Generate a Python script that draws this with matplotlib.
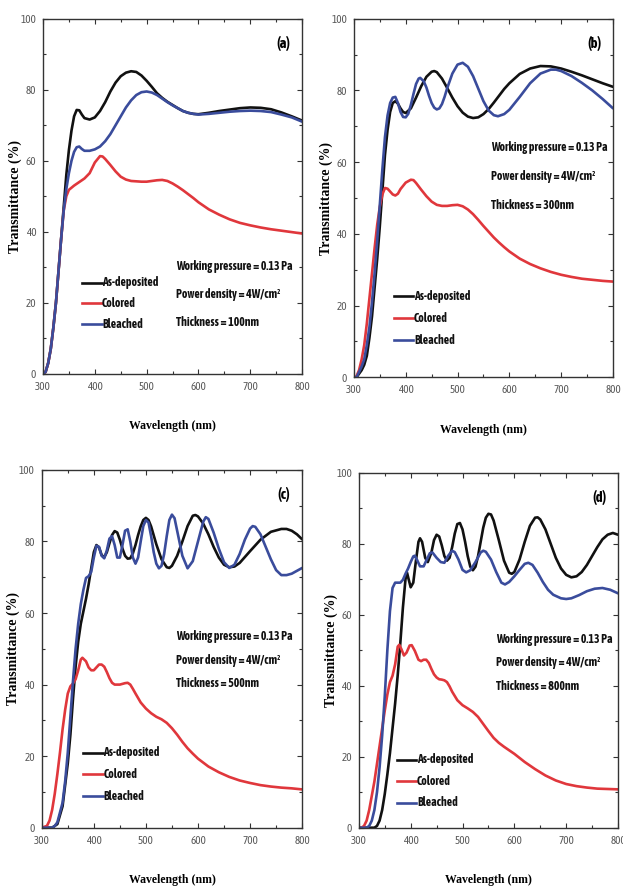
import matplotlib
matplotlib.use("Agg")
import matplotlib.pyplot as plt
from matplotlib.ticker import MultipleLocator

# ---- (a) 100 nm ----
WL_A_DEP = [300, 305, 310, 315, 320, 325, 330, 335, 340, 345, 350, 355, 360, 365, 370, 375, 380, 390, 400,
            410, 420, 430, 440, 450, 460, 470, 480, 490, 500, 510, 520, 530, 540, 550, 560, 570, 580, 590,
            600, 620, 640, 660, 680, 700, 720, 740, 760, 780, 800]
T_A_DEP = [0, 0.5, 3, 7, 13, 20, 29, 38, 47, 56, 63, 68.5, 72.5, 74.3, 74.2, 73, 72, 71.6, 72.2,
           74, 76.5, 79.5, 82, 83.8, 84.8, 85.2, 85, 84, 82.5, 80.8, 79, 77.7, 76.6, 75.7, 74.8, 74, 73.5, 73.2,
           73.1, 73.5, 74, 74.4, 74.8, 75, 74.9, 74.5, 73.6, 72.5, 71.3]
WL_A_BL = WL_A_DEP
T_A_BL = [0, 0.5, 3, 7, 13, 20, 29, 38, 46, 52, 56.5, 60, 62.5, 63.8, 64, 63.3, 62.8, 62.8, 63.2,
          64, 65.5, 67.5, 70, 72.5, 75, 77, 78.5, 79.3, 79.5, 79.2, 78.5, 77.5, 76.5, 75.6, 74.8, 74, 73.5, 73.2,
          73, 73.2, 73.5, 73.8, 74, 74.1, 74, 73.7, 73, 72.2, 71]
WL_A_COL = [300, 305, 310, 315, 320, 325, 330, 335, 340, 345, 350, 360, 370, 380, 390, 400, 410, 415, 420,
            430, 440, 450, 460, 470, 480, 490, 500, 510, 520, 530, 540, 550, 560, 570, 580, 590, 600, 620,
            640, 660, 680, 700, 720, 740, 760, 780, 800]
T_A_COL = [0, 0.5, 3, 7, 13, 20, 29, 38, 46, 50, 51.8, 53, 54, 55, 56.5, 59.5, 61.3, 61.2, 60.5,
           58.8, 57, 55.5, 54.7, 54.3, 54.2, 54.1, 54.1, 54.3, 54.5, 54.6, 54.3, 53.6, 52.7, 51.7, 50.6, 49.5,
           48.3, 46.3, 44.8, 43.5, 42.5, 41.8, 41.2, 40.7, 40.3, 39.9, 39.5]

# ---- (b) 300 nm ----
WL_B_DEP = [300, 305, 310, 315, 320, 325, 330, 335, 340, 345, 350, 355, 360, 365, 370, 375, 380, 385, 390,
            395, 400, 410, 420, 430, 440, 450, 455, 460, 470, 480, 490, 500, 510, 520, 530, 540, 550, 560,
            570, 580, 590, 600, 620, 640, 660, 680, 700, 720, 740, 760, 780, 800]
T_B_DEP = [0, 0, 1, 2, 3.5, 6, 11, 17, 25, 33, 42, 52, 62, 69, 74, 76.5, 77, 76.3, 75,
           74, 73.7, 75, 78, 81.2, 83.8, 85.2, 85.4, 85.1, 83.3, 80.7, 78, 75.6, 73.8, 72.7, 72.3, 72.5, 73.4,
           74.8, 76.6, 78.5, 80.4, 82, 84.6, 86.1, 86.8, 86.7, 86.1, 85.2, 84.2, 83.1, 82, 81]
WL_B_BL = [300, 305, 310, 315, 320, 325, 330, 335, 340, 345, 350, 355, 360, 365, 370, 375, 380, 385, 390,
           395, 400, 405, 410, 415, 420, 425, 428, 435, 440, 445, 450, 455, 460, 465, 470, 475, 480, 490,
           500, 510, 520, 530, 540, 550, 560, 570, 578, 590, 600, 620, 640, 660, 680, 690, 700, 720, 740,
           760, 780, 800]
T_B_BL = [0, 0, 1.5, 3, 5, 9, 14, 21, 29, 38, 48, 58, 67, 73, 76.5, 78, 78.2, 76.5, 74,
          72.6, 72.5, 73.5, 76, 79, 81.8, 83.3, 83.5, 82.5, 80.8, 78.5, 76.5, 75.2, 74.7, 75, 76.2, 78.2, 80.6,
          84.7, 87.2, 87.7, 86.6, 84, 80.5, 77, 74.4, 73.1, 72.8, 73.4, 74.6, 78.2, 82, 84.7, 85.8, 85.8,
          85.4, 84, 82.1, 80, 77.6, 75]
WL_B_COL = [300, 305, 310, 315, 320, 325, 330, 335, 340, 345, 350, 355, 360, 365, 370, 375, 380, 385, 390,
            400, 410, 415, 420, 430, 440, 450, 460, 470, 480, 490, 500, 510, 520, 530, 540, 550, 560, 570,
            580, 590, 600, 620, 640, 660, 680, 700, 720, 740, 760, 780, 800]
T_B_COL = [0, 0.3, 2, 5, 9, 15, 22, 29, 36, 42.5, 47.5, 51, 52.8, 52.6, 51.8, 51, 50.7, 51.2, 52.5,
           54.3, 55.1, 55, 54.2, 52.3, 50.5, 49, 48.1, 47.8, 47.8, 48, 48.1, 47.7, 46.8, 45.5, 43.9, 42.2,
           40.6, 39, 37.6, 36.3, 35.1, 33.1, 31.6, 30.4, 29.4, 28.6, 28, 27.5, 27.2, 26.9, 26.7]

# ---- (c) 500 nm ----
WL_C_DEP = [300, 320, 330, 340, 350, 355, 360, 365, 370, 375, 380, 385, 390, 395, 400, 405, 410, 415, 420,
            425, 430, 435, 440, 445, 450, 455, 460, 465, 470, 475, 480, 485, 490, 495, 500, 505, 510, 520,
            530, 540, 545, 550, 560, 570, 580, 590, 595, 600, 610, 620, 630, 640, 650, 660, 670, 680, 700,
            720, 740, 760, 770, 780, 790, 800]
T_C_DEP = [0, 0, 1, 6, 18, 26, 36, 45, 52, 57, 60.5, 64, 68, 72.5, 77, 79, 78.3, 76.2, 75.6,
           77, 79.5, 81.8, 82.9, 82.5, 80.5, 78, 76, 75.2, 75.3, 76.7, 79, 81.8, 84.2, 86, 86.6, 86, 84.2,
           79.2, 75, 72.8, 72.6, 73.2, 76, 80, 84.3, 87.2, 87.4, 87, 85, 82, 78.5, 75.5, 73.5, 72.8, 73, 74,
           77.3, 80.5, 82.7, 83.5, 83.5, 83, 82, 80.6]
WL_C_BL = [300, 320, 325, 330, 340, 345, 350, 355, 360, 365, 370, 375, 380, 385, 390, 395, 400, 405, 410,
           415, 420, 425, 430, 435, 440, 445, 450, 455, 460, 465, 470, 475, 480, 485, 490, 495, 500, 505,
           510, 515, 520, 525, 530, 535, 540, 545, 550, 555, 560, 570, 580, 590, 600, 610, 615, 620, 630,
           640, 650, 660, 670, 680, 690, 700, 705, 710, 720, 730, 740, 750, 760, 770, 780, 790, 800]
T_C_BL = [0, 0, 0.5, 1.5, 7, 13, 21, 31, 41, 50, 57, 62.5, 66.5, 69.8, 70.3, 71.5, 75.5, 78.8, 78.5,
          76, 75.3, 77.5, 80.8, 81.5, 79, 75.5, 75.5, 79, 83, 83.4, 80, 75.5, 73.8, 75.5, 80, 84.3, 86,
          85.3, 81.5, 77, 73.8, 72.5, 73.2, 76.5, 81.5, 86, 87.5, 86.5, 83, 76, 72.5, 74.5, 80, 85.5, 86.8,
          86.3, 82.5, 78, 74.2, 72.6, 73.5, 76.5, 80.5, 83.6, 84.3, 84.1, 82, 78.5, 75, 72, 70.6, 70.6, 71,
          71.8, 72.6]
WL_C_COL = [300, 310, 315, 320, 325, 330, 335, 340, 345, 350, 355, 360, 365, 370, 375, 378, 385, 390, 395,
            400, 405, 410, 415, 420, 425, 430, 435, 440, 450, 460, 465, 470, 475, 480, 490, 500, 510, 520,
            530, 540, 550, 560, 570, 580, 590, 600, 620, 640, 660, 680, 700, 720, 740, 760, 780, 800]
T_C_COL = [0, 0.5, 2, 5, 9.5, 15, 21, 27.5, 33, 37.5, 39.5, 40.3, 41.5, 44, 47, 47.5, 46.5, 44.8, 44,
           44, 44.8, 45.6, 45.6, 45, 43.5, 41.8, 40.5, 40, 40, 40.4, 40.5, 40, 38.8, 37.5, 35, 33.3, 32, 31,
           30.3, 29.3, 27.8, 26, 24, 22.2, 20.7, 19.3, 17.1, 15.5, 14.2, 13.2, 12.5, 11.9, 11.5, 11.2, 11,
           10.7]

# ---- (d) 800 nm ----
WL_D_DEP = [300, 330, 335, 340, 345, 350, 355, 360, 365, 370, 375, 380, 385, 390, 393, 396, 400, 405, 410,
            415, 418, 422, 428, 433, 440, 445, 450, 455, 460, 465, 470, 475, 480, 485, 490, 495, 500, 505,
            510, 515, 520, 525, 530, 535, 540, 545, 550, 555, 560, 570, 580, 590, 595, 600, 610, 620, 630,
            640, 645, 650, 660, 670, 680, 690, 700, 710, 720, 730, 740, 750, 760, 770, 780, 790, 800]
T_D_DEP = [0, 0, 0.5, 2, 5, 9.5, 15, 21, 28, 35, 43, 52, 62, 70, 71.8, 70, 67.7, 69, 75,
           80.5, 81.5, 80.5, 76, 74.8, 77.5, 81, 82.5, 82, 79.5, 76.5, 75.2, 76, 79, 82.8, 85.5, 85.8, 84,
           80.5, 76.5, 73.5, 72.5, 73.5, 76.5, 80.5, 84.5, 87.3, 88.4, 88.2, 86.5, 81, 75.2, 71.8, 71.5, 72,
           75.5, 80.5, 85, 87.3, 87.4, 86.8, 84, 80, 76, 73, 71.2, 70.5, 70.8, 72, 74, 76.5, 79, 81.2, 82.5,
           83, 82.5]
WL_D_BL = [300, 315, 320, 325, 330, 335, 340, 345, 350, 355, 360, 365, 370, 375, 380, 385, 390, 395, 400,
           405, 408, 412, 418, 425, 430, 437, 442, 450, 458, 465, 472, 480, 485, 492, 500, 507, 515, 525,
           535, 540, 545, 555, 565, 575, 582, 590, 600, 610, 620, 627, 635, 645, 655, 665, 675, 690, 700,
           710, 725, 740, 755, 770, 785, 800]
T_D_BL = [0, 0, 0.5, 2, 5, 10, 17, 26, 37, 50, 61, 67.5, 69, 69, 69, 69.8, 71.5, 73, 74.8,
          76.4, 76.6, 75.5, 73.6, 73.6, 75.2, 77.3, 77.5, 76, 74.8, 74.6, 76.5, 78, 77.6, 75.6, 72.6, 71.9,
          72.5, 74.8, 77.5, 78, 77.7, 75.5, 72, 69, 68.5, 69.2, 70.8, 72.6, 74.3, 74.6, 74, 71.8, 69.2, 67,
          65.6, 64.6, 64.4, 64.6, 65.5, 66.6, 67.3, 67.5, 67, 66]
WL_D_COL = [300, 305, 310, 315, 320, 325, 330, 335, 340, 345, 350, 355, 360, 365, 370, 375, 378, 382, 387,
            392, 398, 402, 408, 415, 420, 425, 430, 435, 440, 445, 450, 455, 460, 465, 470, 475, 480, 490,
            500, 510, 520, 530, 540, 550, 560, 570, 580, 590, 600, 620, 640, 660, 680, 700, 720, 740, 760,
            780, 800]
T_D_COL = [0, 0, 0.5, 2, 5, 9, 13, 18, 23, 28, 33, 37.5, 41, 42.8, 46, 51, 51.5, 50.3, 48.5,
           49.3, 51.3, 51.4, 49.8, 47.3, 46.9, 47.3, 47.3, 46.4, 44.7, 43.2, 42.3, 41.8, 41.7, 41.5, 41,
           39.8, 38.3, 35.9, 34.5, 33.6, 32.6, 31.2, 29.2, 27.2, 25.3, 23.9, 22.8, 21.8, 20.8, 18.5, 16.5,
           14.7, 13.3, 12.3, 11.7, 11.3, 11, 10.9, 10.8]

LABELS = ["As-deposited", "Colored", "Bleached"]
COLORS = ["#111111", "#e0373c", "#3a4c9c"]
PANEL_TAGS = ["(a)", "(b)", "(c)", "(d)"]
THICKNESS = ["100nm", "300nm", "500nm", "800nm"]

PANELS = [
    [(WL_A_DEP, T_A_DEP), (WL_A_COL, T_A_COL), (WL_A_BL, T_A_BL)],
    [(WL_B_DEP, T_B_DEP), (WL_B_COL, T_B_COL), (WL_B_BL, T_B_BL)],
    [(WL_C_DEP, T_C_DEP), (WL_C_COL, T_C_COL), (WL_C_BL, T_C_BL)],
    [(WL_D_DEP, T_D_DEP), (WL_D_COL, T_D_COL), (WL_D_BL, T_D_BL)],
]

# axes rectangles in figure fraction, plus legend / note anchors in data units
RECTS = [
    [0.069, 0.580, 0.416, 0.399],
    [0.568, 0.576, 0.416, 0.403],
    [0.067, 0.070, 0.418, 0.402],
    [0.576, 0.070, 0.416, 0.399],
]
LEGEND_AT = [(375, 25.6, 5.8), (377, 22.6, 6.1), (379, 21.0, 6.1), (373, 19.2, 6.1)]
NOTE_AT = [(557, 30.1, 7.8), (564, 64.0, 8.0), (558, 53.4, 6.6), (564, 53.0, 6.6)]

NARROW = ["Asap Condensed", "DejaVu Sans"]
SERIF = ["Liberation Serif", "DejaVu Serif"]

fig = plt.figure(figsize=(6.23, 8.9), dpi=100)

for i, curves in enumerate(PANELS):
    ax = fig.add_axes(RECTS[i])
    for (wl, t), col in zip(curves, COLORS):
        ax.plot(wl, t, color=col, lw=1.9, solid_capstyle="round")

    ax.set_xlim(300, 800)
    ax.set_ylim(0, 100)
    ax.xaxis.set_major_locator(MultipleLocator(100))
    ax.xaxis.set_minor_locator(MultipleLocator(50))
    ax.yaxis.set_major_locator(MultipleLocator(20))
    ax.yaxis.set_minor_locator(MultipleLocator(10))
    ax.tick_params(which="both", direction="in", top=True, right=True, colors="#333333",
                   labelcolor="#5a5a5a", labelsize=8, width=0.8)
    ax.tick_params(which="major", length=3.5, pad=5)
    ax.tick_params(which="minor", length=2)
    for lab in ax.get_xticklabels() + ax.get_yticklabels():
        lab.set_family(NARROW)
    for s in ax.spines.values():
        s.set_color("#333333")
        s.set_linewidth(1.0)

    ax.set_xlabel("Wavelength (nm)", family=SERIF, fontweight="bold", fontsize=8.5)
    ax.set_ylabel("Transmittance (%)", family=SERIF, fontweight="bold", fontsize=10)
    ax.xaxis.set_label_coords(0.5, -0.13)
    ax.yaxis.set_label_coords(-0.082, 0.5)

    ax.text(0.955, 0.93, PANEL_TAGS[i], transform=ax.transAxes, ha="right", va="center",
            family=NARROW, fontweight="bold", fontsize=10.5)

    # hand-placed legend: short line then label
    lx, ly, dy = LEGEND_AT[i]
    for k, (lab, col) in enumerate(zip(LABELS, COLORS)):
        yy = ly - k * dy
        ax.plot([lx, lx + 38], [yy, yy], color=col, lw=1.9)
        ax.text(lx + 39, yy, lab, ha="left", va="center", family=NARROW,
                fontweight="bold", fontsize=8.5, color="#111111")

    nx, ny, ndy = NOTE_AT[i]
    notes = ["Working pressure = 0.13 Pa", "Power density = 4W/cm²",
             f"Thickness = {THICKNESS[i]}"]
    for k, s in enumerate(notes):
        ax.text(nx, ny - k * ndy, s, ha="left", va="center", family=NARROW,
                fontweight="bold", fontsize=8.5, color="#111111")

fig.savefig("out.png", dpi=100)
